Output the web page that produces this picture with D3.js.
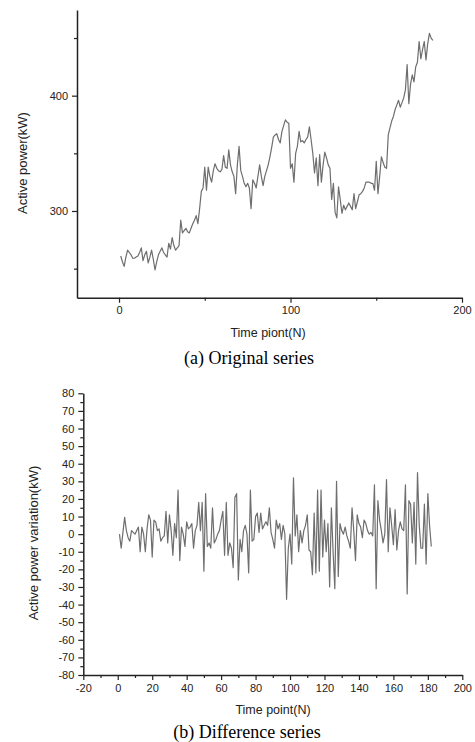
<!DOCTYPE html>
<html>
<head>
<meta charset="utf-8">
<script src="https://cdn.jsdelivr.net/npm/d3@7"></script>
<style>
  html, body { margin: 0; padding: 0; background: #fff; }
  svg { display: block; }
</style>
</head>
<body>
<div id="chart"></div>
<script>
// original series, time points 1..183
const originalValues = [
  261, 256, 252, 260, 266, 264, 262, 259, 259, 260,
  261, 264, 268, 257, 262, 265, 255, 260, 266, 258,
  249, 256, 262, 265, 268, 264, 262, 260, 272, 267,
  277, 270, 266, 268, 270, 292, 281, 283, 285, 282,
  281, 285, 289, 292, 296, 289, 302, 317, 320, 338,
  318, 338, 330, 325, 335, 341, 337, 335, 334, 336,
  348, 338, 337, 353, 340, 334, 330, 315, 340, 356,
  335, 330, 324, 321, 324, 320, 302, 327, 324, 320,
  330, 340, 330, 322, 330, 335, 340, 347, 355, 364,
  366, 367, 362, 359, 369, 374, 379, 377, 376, 337,
  341, 325, 350, 356, 369, 360, 361, 359, 362, 364,
  373, 362, 350, 333, 346, 322, 349, 325, 340, 351,
  346, 340, 337, 310, 324, 299, 294, 321, 310, 298,
  305, 301, 304, 307, 304, 301, 315, 302, 308, 314,
  315, 317, 320, 325, 325, 325, 324, 324, 318, 343,
  315, 330, 347, 342, 338, 337, 366, 372, 378, 382,
  388, 392, 396, 390, 394, 398, 405, 427, 393, 410,
  418, 412, 425, 429, 447, 432, 440, 447, 431, 445,
  454, 450, 448
];

// difference series, time points 1..182
const differenceValues = [
  0, -8, 1, 9.5, 2, -2, -4, 2, 1, 0,
  2, 4, -10, 4, 0, -10, 3, 11, 8, -13,
  8, 7, 2, 3, -4, -2, -1, 13, -5, 11,
  2, -12, 6, -2, 25, -15, 4, 0, -7, 7,
  3, 4, 6, -8, 2, 5, 18, 2, 18, -21,
  23, -7, -5, -8, 15, -5, -3, 0, 2, 8,
  13, -12, 18, -12, -5, -8, -19, 21, 23, -26,
  -3, -10, 2, 5, 0, -22, 25, -4, -3, 10,
  12, 1, 12, 3, 5, 7, 5, 15, 1, -3,
  -8, 8, 3, 6, -3, 5, 0, -37, -8, 0,
  -17, 32, -1, 11, -10, 2, -5, 2, 5, 11,
  -9, -10, -23, 12, -22, 25, -21, 25, -13, 8,
  -10, 6, -30, 15, -10, -31, 30, -24, 6, 2,
  0, 4, -1, -4, -8, 15, 2, -15, 11, 6,
  4, -2, 8, 6, 2, 0, 1, -1, 28, -31,
  19, 8, 2, -5, 0, 31, -10, 15, 5, -6,
  14, -9, 2, 7, 3, 2, 28, -34, 19, 17,
  -5, 18, -17, 35, 5, -8, -8, 17, -17, 23,
  5, -7
];

// tick values
const topXMajor = [0, 100, 200];
const topXMinor = [50, 150];
const topYMajor = [300, 400];
const topYMinor = [250, 350, 450];
const bottomXMajor = d3.range(-20, 201, 20);
const bottomXMinor = d3.range(-10, 200, 20);
const bottomYMajor = d3.range(-80, 81, 10);
const bottomYMinor = d3.range(-75, 80, 10);

const width = 475, height = 742;
const sans = "'Liberation Sans', Arial, sans-serif";
const serif = "'Liberation Serif', 'Times New Roman', serif";
const plain = d => String(d); // plain hyphen minus like the original

const svg = d3.select("#chart").append("svg")
  .attr("width", width)
  .attr("height", height)
  .style("background", "#fff");

function drawPanel(opts) {
  const { x, y, values, xMajor, xMinor, yMajor, yMinor, xTitle, yTitle, caption } = opts;
  const g = svg.append("g");
  const [x0] = x.range();
  const [y0] = y.range();

  // minor ticks
  g.append("g")
    .attr("transform", `translate(0,${y0})`)
    .call(d3.axisBottom(x).tickValues(xMinor).tickFormat("").tickSize(3).tickSizeOuter(0))
    .call(s => s.select(".domain").remove())
    .call(s => s.selectAll("line").attr("stroke", "#222").attr("stroke-width", 1.2));
  g.append("g")
    .attr("transform", `translate(${x0},0)`)
    .call(d3.axisLeft(y).tickValues(yMinor).tickFormat("").tickSize(3).tickSizeOuter(0))
    .call(s => s.select(".domain").remove())
    .call(s => s.selectAll("line").attr("stroke", "#222").attr("stroke-width", 1.2));

  // major ticks + labels
  g.append("g")
    .attr("transform", `translate(0,${y0})`)
    .call(d3.axisBottom(x).tickValues(xMajor).tickFormat(plain).tickSize(5).tickPadding(4).tickSizeOuter(0))
    .call(s => s.select(".domain").attr("stroke", "#222").attr("stroke-width", 1.5))
    .call(s => s.selectAll("line").attr("stroke", "#222").attr("stroke-width", 1.2))
    .call(s => s.selectAll("text").attr("fill", "#222")
      .style("font-family", sans).style("font-size", "11px"));
  g.append("g")
    .attr("transform", `translate(${x0},0)`)
    .call(d3.axisLeft(y).tickValues(yMajor).tickFormat(plain).tickSize(5).tickPadding(4).tickSizeOuter(0))
    .call(s => s.select(".domain").attr("stroke", "#222").attr("stroke-width", 1.5))
    .call(s => s.selectAll("line").attr("stroke", "#222").attr("stroke-width", 1.2))
    .call(s => s.selectAll("text").attr("fill", "#222")
      .style("font-family", sans).style("font-size", "11px"));

  // series line
  const line = d3.line()
    .x((d, i) => x(i + 1))
    .y(d => y(d));
  g.append("path")
    .datum(values)
    .attr("fill", "none")
    .attr("stroke", "#6e6e6e")
    .attr("stroke-width", 1.2)
    .attr("stroke-linejoin", "round")
    .attr("d", line);

  // titles
  g.append("text")
    .attr("x", xTitle.x).attr("y", xTitle.y)
    .attr("text-anchor", "middle")
    .style("font-family", sans).style("font-size", "12.5px")
    .attr("fill", "#222")
    .text(xTitle.text);
  g.append("text")
    .attr("transform", `translate(${yTitle.x},${yTitle.y}) rotate(-90)`)
    .attr("text-anchor", "middle")
    .style("font-family", sans).style("font-size", "13px")
    .attr("fill", "#222")
    .text(yTitle.text);
  g.append("text")
    .attr("x", caption.x).attr("y", caption.y)
    .attr("text-anchor", "middle")
    .style("font-family", serif).style("font-size", "18px")
    .attr("fill", "#000")
    .text(caption.text);
}

// (a) original series
drawPanel({
  x: d3.scaleLinear().domain([-24.5, 200]).range([77, 462]),
  y: d3.scaleLinear().domain([224.8, 474.3]).range([297.7, 10]),
  values: originalValues,
  xMajor: topXMajor, xMinor: topXMinor,
  yMajor: topYMajor, yMinor: topYMinor,
  xTitle: { text: "Time piont(N)", x: 268, y: 337 },
  yTitle: { text: "Active power(kW)", x: 27, y: 163 },
  caption: { text: "(a) Original series", x: 249, y: 364 }
});

// (b) difference series
drawPanel({
  x: d3.scaleLinear().domain([-20, 200]).range([83.3, 462.3]),
  y: d3.scaleLinear().domain([-80, 80]).range([675, 393.3]),
  values: differenceValues,
  xMajor: bottomXMajor, xMinor: bottomXMinor,
  yMajor: bottomYMajor, yMinor: bottomYMinor,
  xTitle: { text: "Time point(N)", x: 273, y: 714 },
  yTitle: { text: "Active power variation(kW)", x: 38, y: 543 },
  caption: { text: "(b) Difference series", x: 247, y: 738 }
});
</script>
</body>
</html>
